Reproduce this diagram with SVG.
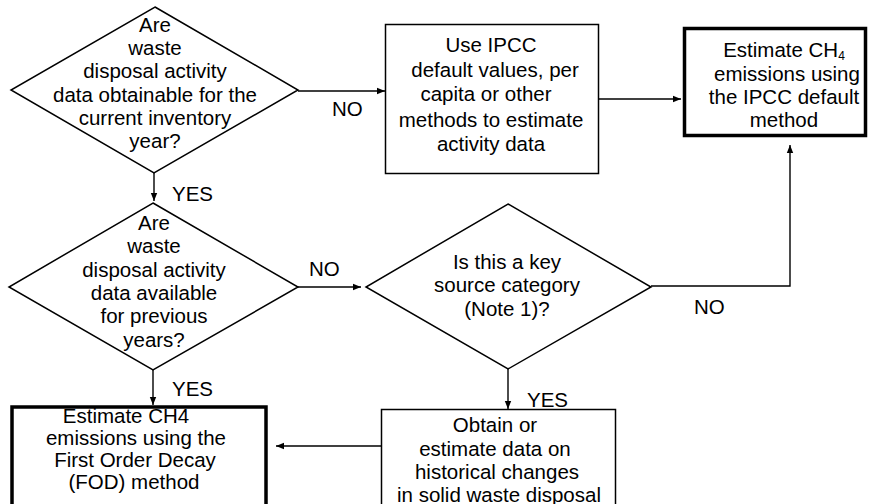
<svg xmlns="http://www.w3.org/2000/svg" width="869" height="504" viewBox="0 0 869 504">
<defs>
<marker id="arr" markerUnits="userSpaceOnUse" markerWidth="10" markerHeight="8" refX="8" refY="4" orient="auto">
<path d="M0,0.8 L8,4 L0,7.2 Z" fill="#000"/>
</marker>
<style>
text{font-family:"Liberation Sans",Arial,sans-serif;font-size:20.5px;fill:#000}
.c{text-anchor:middle}
.thin{fill:#fff;stroke:#000;stroke-width:1.5}
.thick{fill:#fff;stroke:#000;stroke-width:3.5}
.con{fill:none;stroke:#000;stroke-width:1.4}
</style>
</defs>
<rect width="869" height="504" fill="#fff"/>

<g id="connectors">
<line class="con" x1="298" y1="91" x2="385" y2="91" marker-end="url(#arr)"/>
<line class="con" x1="599" y1="99" x2="681" y2="99" marker-end="url(#arr)"/>
<line class="con" x1="154" y1="173" x2="154" y2="201" marker-end="url(#arr)"/>
<line class="con" x1="298" y1="287" x2="361" y2="287" marker-end="url(#arr)"/>
<line class="con" x1="153" y1="370" x2="153" y2="405" marker-end="url(#arr)"/>
<polyline class="con" points="651,286 790,286 790,145" marker-end="url(#arr)"/>
<line class="con" x1="508" y1="369" x2="508" y2="409" marker-end="url(#arr)"/>
<line class="con" x1="381" y1="446" x2="276" y2="446" marker-end="url(#arr)"/>
<text x="332" y="116">NO</text>
<text x="172" y="201">YES</text>
<text x="309" y="276">NO</text>
<text x="172" y="396">YES</text>
<text x="527" y="407">YES</text>
<text x="694" y="314">NO</text>
</g>

<g id="d1">
<polygon class="thin" points="155,7 298,90 154,173 11,90"/>
<text class="c" x="155" y="32">Are</text>
<text class="c" x="155" y="55">waste</text>
<text class="c" x="155" y="78">disposal activity</text>
<text class="c" x="155" y="101.5">data obtainable for the</text>
<text class="c" x="155" y="125">current inventory</text>
<text class="c" x="155" y="148">year?</text>
</g>

<g id="box1">
<rect class="thin" x="385.5" y="24.5" width="213" height="149"/>
<text class="c" x="491" y="52">Use IPCC</text>
<text class="c" x="495" y="76.5">default values, per</text>
<text class="c" x="486" y="101">capita or other</text>
<text class="c" x="491" y="126.5">methods to estimate</text>
<text class="c" x="491" y="151">activity data</text>
</g>

<g id="box3">
<rect class="thick" x="684.5" y="28.5" width="181" height="107"/>
<text class="c" x="784" y="57">Estimate CH<tspan font-size="12" dy="3">4</tspan></text>
<text class="c" x="787" y="81">emissions using</text>
<text class="c" x="784" y="104">the IPCC default</text>
<text class="c" x="784" y="126.5">method</text>
</g>

<g id="d2">
<polygon class="thin" points="153,203 298,287 153,370 9,287"/>
<text class="c" x="154" y="230">Are</text>
<text class="c" x="154" y="253">waste</text>
<text class="c" x="154" y="277">disposal activity</text>
<text class="c" x="154" y="300">data available</text>
<text class="c" x="154" y="323">for previous</text>
<text class="c" x="154" y="347">years?</text>
</g>

<g id="d3">
<polygon class="thin" points="508,204 651,287 508,369 366,287"/>
<text class="c" x="507" y="268.5">Is this a key</text>
<text class="c" x="507" y="292">source category</text>
<text class="c" x="507" y="316">(Note 1)?</text>
</g>

<g id="box5">
<rect class="thick" x="12" y="407" width="254" height="120"/>
<text class="c" x="126" y="423">Estimate CH4</text>
<text class="c" x="136" y="445">emissions using the</text>
<text class="c" x="135" y="467">First Order Decay</text>
<text class="c" x="134" y="488.5">(FOD) method</text>
</g>

<g id="box4">
<rect class="thin" x="381.5" y="409.5" width="234" height="120"/>
<text class="c" x="495" y="432">Obtain or</text>
<text class="c" x="495" y="455.5">estimate data on</text>
<text class="c" x="497" y="479">historical changes</text>
<text class="c" x="499" y="502">in solid waste disposal</text>
</g>
</svg>
